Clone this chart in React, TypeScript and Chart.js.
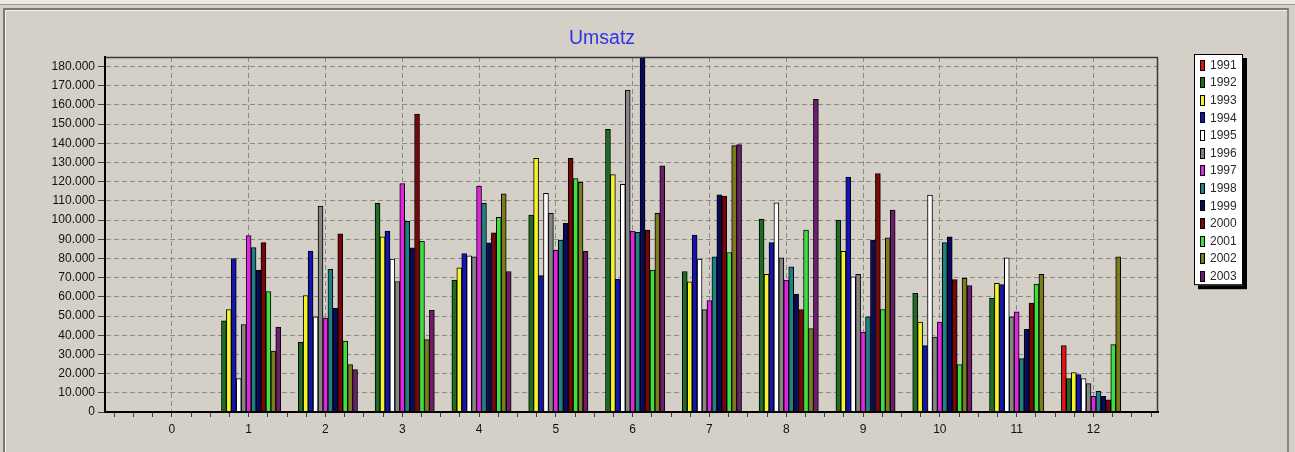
import React, { useEffect, useRef } from 'react';
import { Chart, registerables } from 'chart.js';

Chart.register(...registerables);

// ---------- data ----------
const chartTitle = 'Umsatz';
const categories = [0, 1, 2, 3, 4, 5, 6, 7, 8, 9, 10, 11, 12];
const seriesLabels = ['1991', '1992', '1993', '1994', '1995', '1996', '1997', '1998', '1999', '2000', '2001', '2002', '2003'];
const seriesColors = ['#e01414', '#1f6e1f', '#f4f428', '#1414b4', '#ffffff', '#858585', '#e024e0', '#1f8282', '#0a0a5c', '#780808', '#3ee03e', '#7c7c1c', '#6e1c6e'];

const v1991 = [null, null, null, null, null, null, null, null, null, null, null, null, 34600];
const v1992 = [null, 47500, 36300, 108700, 68700, 102600, 147300, 73200, 100500, 100000, 61900, 59300, 17400];
const v1993 = [null, 53400, 60700, 91300, 75100, 132200, 123700, 67800, 71700, 83700, 46800, 67100, 20500];
const v1994 = [null, 80000, 83800, 94300, 82600, 71100, 69200, 92200, 88300, 122400, 34600, 66400, 19500];
const v1995 = [null, 17400, 49600, 79700, 81400, 113900, 118600, 79700, 109000, 70400, 113000, 80300, 17400];
const v1996 = [null, 45600, 107300, 68000, 80900, 103500, 167700, 53400, 80300, 71700, 39100, 49600, 14800];
const v1997 = [null, 92000, 48900, 119100, 117700, 84300, 94300, 58100, 68700, 41700, 46800, 52200, 8200];
const v1998 = [null, 85700, 74400, 99300, 108700, 89600, 93600, 80900, 75700, 49600, 88300, 27800, 10800];
const v1999 = [null, 73900, 54100, 85600, 88200, 98300, 185000, 113200, 61400, 89600, 91300, 43100, 8200];
const v2000 = [null, 88300, 92900, 155300, 93400, 132200, 94800, 112500, 53400, 124300, 69000, 56700, 6400];
const v2001 = [null, 62800, 37000, 88900, 101400, 121600, 73900, 83100, 94800, 53400, 24700, 66600, 35100];
const v2002 = [null, 31800, 24700, 37700, 113700, 119700, 103500, 138800, 43500, 90800, 69700, 71700, 80900];
const v2003 = [null, 44300, 22100, 53000, 73200, 83700, 128300, 139300, 163000, 105200, 65900, null, null];

const seriesValues = [v1991, v1992, v1993, v1994, v1995, v1996, v1997, v1998, v1999, v2000, v2001, v2002, v2003];

const yTickValues = [0, 10000, 20000, 30000, 40000, 50000, 60000, 70000, 80000, 90000, 100000, 110000, 120000, 130000, 140000, 150000, 160000, 170000, 180000];
const yMax = 185000;
const xMin = -0.87;
const xMax = 12.84;
const xMinorStep = 0.25;

// ---------- style ----------
const FONT = 'Arial, "Liberation Sans", Helvetica, sans-serif';
const BG = '#d4d0c8';
const GRID = '#8a8a8a';

const fmt = (v: number) => String(v).replace(/\B(?=(\d{3})+(?!\d))/g, '.');

const xTickValues: number[] = [];
for (let v = Math.ceil(xMin / xMinorStep) * xMinorStep; v <= xMax + 1e-9; v += xMinorStep) {
  xTickValues.push(Math.round(v * 100) / 100);
}

const plotFramePlugin = {
  id: 'plotFrame',
  afterDatasetsDraw(chart: any) {
    const { ctx, chartArea: a } = chart;
    ctx.save();
    ctx.strokeStyle = '#3a3a3a';
    ctx.lineWidth = 1.5;
    ctx.beginPath();
    ctx.moveTo(a.left, a.top + 0.5);
    ctx.lineTo(a.right - 0.5, a.top + 0.5);
    ctx.lineTo(a.right - 0.5, a.bottom);
    ctx.stroke();
    ctx.restore();
  },
};

const titleShiftPlugin = {
  id: 'titleShift',
  afterLayout(chart: any) {
    const t = chart.titleBlock;
    if (t) {
      t.left = 0;
      t.right = chart.chartArea.right + 46;
    }
  },
};

const boxLegendPlugin = {
  id: 'boxLegend',
  afterDraw(chart: any) {
    const { ctx, chartArea: a } = chart;
    const items = chart.data.datasets;
    const left = a.right + 36;
    const top = a.top - 3;
    const rowH = 17.6;
    const w = 49;
    const h = 11 + rowH * (items.length - 1) + 9;
    ctx.save();
    ctx.fillStyle = '#000';
    ctx.fillRect(left + 4, top + 4, w, h);
    ctx.fillStyle = '#fff';
    ctx.fillRect(left, top, w, h);
    ctx.strokeStyle = '#000';
    ctx.lineWidth = 1;
    ctx.strokeRect(left + 0.5, top + 0.5, w - 1, h - 1);
    ctx.font = `12px ${FONT}`;
    ctx.textBaseline = 'middle';
    ctx.textAlign = 'left';
    items.forEach((ds: any, i: number) => {
      const cy = top + 11 + i * rowH;
      ctx.fillStyle = ds.backgroundColor;
      ctx.fillRect(left + 6, Math.round(cy - 5.5), 5, 11);
      ctx.strokeStyle = '#000';
      ctx.strokeRect(left + 6.5, Math.round(cy - 5.5) + 0.5, 4, 10);
      ctx.fillStyle = '#2a2a2a';
      ctx.fillText(ds.label, left + 16, cy + 0.5);
    });
    ctx.restore();
  },
};

export default function App() {
  const ref = useRef<HTMLCanvasElement>(null);

  useEffect(() => {
    if (!ref.current) return;
    const chart = new Chart(ref.current, {
      type: 'bar',
      data: {
        datasets: seriesLabels.map((label, s) => ({
          label,
          data: categories.map((c, i) => ({ x: c, y: seriesValues[s][i] })) as any,
          backgroundColor: seriesColors[s],
          borderColor: '#000',
          borderWidth: 1,
          barPercentage: 1,
          categoryPercentage: 0.836,
          barThickness: 'flex' as any,
        })),
      },
      options: {
        animation: false,
        responsive: false,
        events: [],
        layout: { padding: { left: 0, right: 137, top: 0, bottom: 0 } },
        plugins: {
          legend: { display: false },
          tooltip: { enabled: false },
          title: {
            display: true,
            text: chartTitle,
            color: '#3232e6',
            font: { family: FONT, size: 19.5, weight: 'normal' },
            padding: { top: 27, bottom: 6.6 },
          },
        },
        scales: {
          x: {
            type: 'linear',
            min: xMin,
            max: xMax,
            bounds: 'data',
            offset: false,
            afterBuildTicks: (s: any) => {
              s.ticks = xTickValues.map((value) => ({ value }));
            },
            afterFit: (s: any) => {
              s.height = 40;
            },
            grid: {
              offset: false,
              color: (c: any) => (c.tick && Number.isInteger(c.tick.value) ? GRID : 'rgba(0,0,0,0)'),
              tickColor: '#404040',
              tickLength: 5,
              lineWidth: 1,
            },
            border: { display: true, color: '#000', width: 2, dash: [5, 3], z: 1 },
            ticks: {
              autoSkip: false,
              maxRotation: 0,
              padding: 5,
              color: '#111',
              font: { family: FONT, size: 12 },
              callback: (v: any) => (Number.isInteger(v) && categories.includes(v) ? String(v) : ''),
            },
          },
          y: {
            type: 'linear',
            min: 0,
            max: yMax,
            bounds: 'data',
            afterBuildTicks: (s: any) => {
              s.ticks = yTickValues.map((value) => ({ value }));
            },
            afterFit: (s: any) => {
              s.width = 105;
            },
            grid: {
              color: GRID,
              tickColor: '#404040',
              tickLength: 7,
              lineWidth: 1,
            },
            border: { display: true, color: '#000', width: 2, dash: [5, 3], z: 1 },
            ticks: {
              padding: 3,
              color: '#111',
              font: { family: FONT, size: 12 },
              callback: (v: any) => fmt(v),
            },
          },
        },
      },
      plugins: [plotFramePlugin, titleShiftPlugin, boxLegendPlugin],
    } as any);
    return () => chart.destroy();
  }, []);

  return (
    <div style={{ position: 'fixed', left: 0, top: 0, width: 1295, height: 452, background: BG, overflow: 'hidden' }}>
      <div style={{ position: 'absolute', left: 0, top: 0, width: 1295, height: 4, background: '#eceae6', borderBottom: '1px solid #9c9a96' }} />
      <div
        style={{
          position: 'absolute',
          left: 3,
          top: 8,
          width: 1282,
          height: 460,
          borderLeft: '2px solid #7b7974',
          borderTop: '2px solid #7b7974',
          borderRight: '2px solid #8a8782',
          boxShadow: 'inset 1px 1px 0 #f4f2ee',
        }}
      />
      <canvas ref={ref} width={1295} height={452} style={{ position: 'absolute', left: 0, top: 0 }} />
    </div>
  );
}
